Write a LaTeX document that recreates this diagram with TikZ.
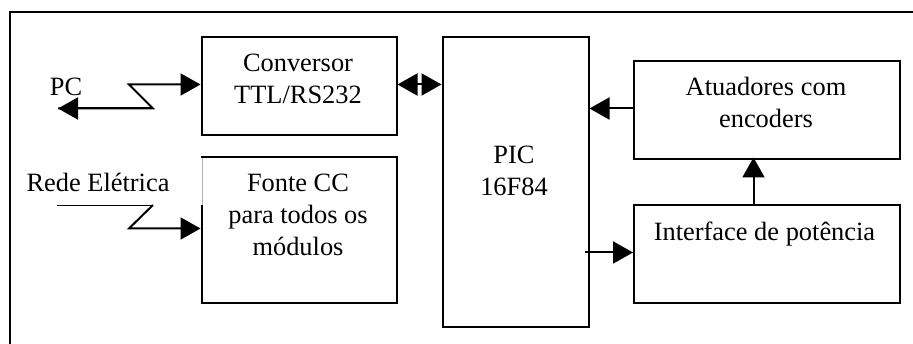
\documentclass[tikz,border=0pt]{standalone}
\usepackage{fontspec}
\setmainfont{Liberation Serif}
\usetikzlibrary{arrows.meta}
\begin{document}
\begin{tikzpicture}[x=1pt,y=-1pt,
  box/.style={draw=black,line width=2pt,line join=miter,inner sep=0pt,anchor=north west},
  lbl/.style={font=\fontsize{26.4}{32}\selectfont,align=center,anchor=center,inner sep=0pt},
  wire/.style={draw=black,line width=2pt},
  tip/.style={-{Triangle[length=20pt,width=22pt]}},
  bitip/.style={{Triangle[length=20pt,width=22pt]}-{Triangle[length=20pt,width=22pt]}}]
\useasboundingbox (0,0) rectangle (913,344);
\fill[white] (0,0) rectangle (913,344);
\coordinate (fbl) at (9.5,346);
\coordinate (ftl) at (9.5,12.5);
\coordinate (ftr) at (915,12.5);
\draw[wire] (fbl) -- (ftl) -- (ftr);
\node[box,minimum width=195pt,minimum height=98pt] (conv) at (200.5,36.5) {};
\node[box,minimum width=195pt,minimum height=146pt] (fonte) at (200.5,156.5) {};
\node[box,minimum width=146pt,minimum height=290pt] (pic) at (441.5,36.5) {};
\node[box,minimum width=266pt,minimum height=98pt] (atu) at (633,60.5) {};
\node[box,minimum width=266pt,minimum height=98pt] (ifp) at (633,204.5) {};
\fill[white] (199,158) rectangle (202,205);
\draw[black!30,line width=0.6pt] (202.5,158) -- (202.5,205);
\node[lbl] (tconv) at (298,79) {Conversor\\TTL/RS232};
\node[lbl] (tfonte) at (298,215) {Fonte CC\\para todos os\\módulos};
\node[lbl] (tpic) at (514,170.5) {PIC\\16F84};
\node[lbl] (tatu) at (766,102) {Atuadores com\\encoders};
\node[lbl] (tifp) at (764.5,234.5) {Interface de potência};
\node[lbl] (tpc) at (66,87) {PC};
\node[lbl] (tred) at (98,182.5) {Rede Elétrica};
\coordinate (pc) at (58,108.5);
\coordinate (z1) at (153,108.5);
\coordinate (z2) at (129,84.5);
\coordinate (r0) at (57,205);
\coordinate (r1) at (153,205);
\coordinate (r2) at (129,228.5);
\draw[wire,tip] (pc) -- (z1) -- (z2) -- (z2 -| conv.west);
\draw[wire,{Triangle[length=20pt,width=22pt]}-] (pc) -- (z1);
\draw[draw=black,line width=0.8pt] (r0) -- (r1);
\draw[wire,tip] (r1) -- (r2) -- (r2 -| fonte.west);
\draw[wire,bitip] (conv.east |- 0,84.5) -- (pic.west |- 0,84.5);
\draw[wire,tip] (atu.west |- 0,108.5) -- (pic.east |- 0,108.5);
\draw[wire,tip] (585,252.5) -- (ifp.west |- 0,252.5);
\draw[wire,tip] (753.5,204.5) -- (753.5,157.5);
\end{tikzpicture}
\end{document}
